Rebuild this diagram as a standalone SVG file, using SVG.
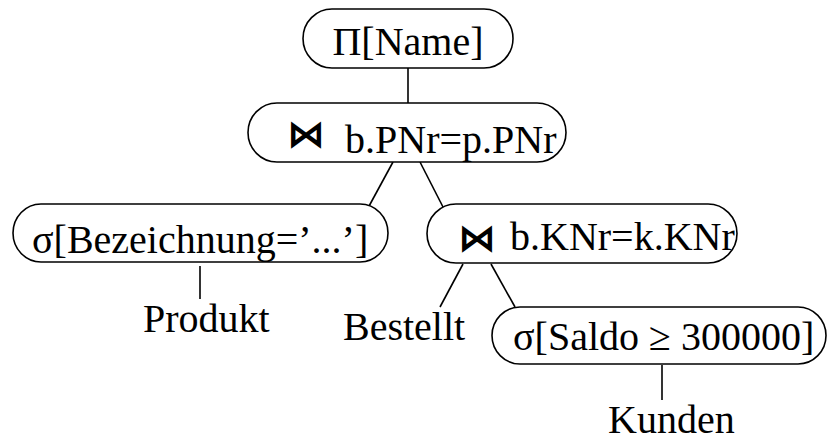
<svg xmlns="http://www.w3.org/2000/svg" width="828" height="441" viewBox="0 0 828 441">
<style>
.box{fill:#fff;stroke:#000;stroke-width:1.6}
.edge{stroke:#000;stroke-width:1.6;fill:none}
.t{font-family:"Liberation Serif","Times New Roman",serif;font-size:40px;fill:#000}
.bt{font-family:"DejaVu Sans",sans-serif;font-weight:bold;font-size:38px;fill:#000}
</style>
<rect width="828" height="441" fill="#fff"/>
<g id="connectors">
<line class="edge" x1="408" y1="68" x2="408" y2="103"/>
<line class="edge" x1="393" y1="162" x2="368" y2="208"/>
<line class="edge" x1="420" y1="162" x2="443" y2="207"/>
<line class="edge" x1="200" y1="266" x2="200" y2="299"/>
<line class="edge" x1="463" y1="264" x2="440" y2="307"/>
<line class="edge" x1="491" y1="264" x2="515" y2="307"/>
<line class="edge" x1="662" y1="365" x2="662" y2="400"/>
</g>
<g id="proj">
<rect class="box" x="303" y="9" width="210" height="59" rx="29" ry="29.5"/>
<text class="t" x="408" y="55" text-anchor="middle">Π[Name]</text>
</g>
<g id="join1">
<rect class="box" x="248" y="103" width="318" height="59" rx="29" ry="29.5"/>
<text class="bt" x="306" y="147" text-anchor="middle">⋈</text>
<text class="t" x="345" y="153">b.PNr=p.PNr</text>
</g>
<g id="sel1">
<rect class="box" x="13" y="204" width="375" height="58" rx="28" ry="29"/>
<text class="t" x="32" y="253">σ[Bezeichnung=’...’]</text>
</g>
<g id="join2">
<rect class="box" x="427" y="204" width="310" height="59" rx="29" ry="29.5"/>
<text class="bt" x="477" y="251" text-anchor="middle">⋈</text>
<text class="t" x="510" y="250">b.KNr=k.KNr</text>
</g>
<g id="sel2">
<rect class="box" x="492" y="307" width="334" height="57" rx="28" ry="28.5"/>
<text class="t" x="513" y="350">σ[Saldo ≥ 300000]</text>
</g>
<g id="produkt"><text class="t" x="143" y="332">Produkt</text></g>
<g id="bestellt"><text class="t" x="343" y="340">Bestellt</text></g>
<g id="kunden"><text class="t" x="608" y="433">Kunden</text></g>
</svg>
